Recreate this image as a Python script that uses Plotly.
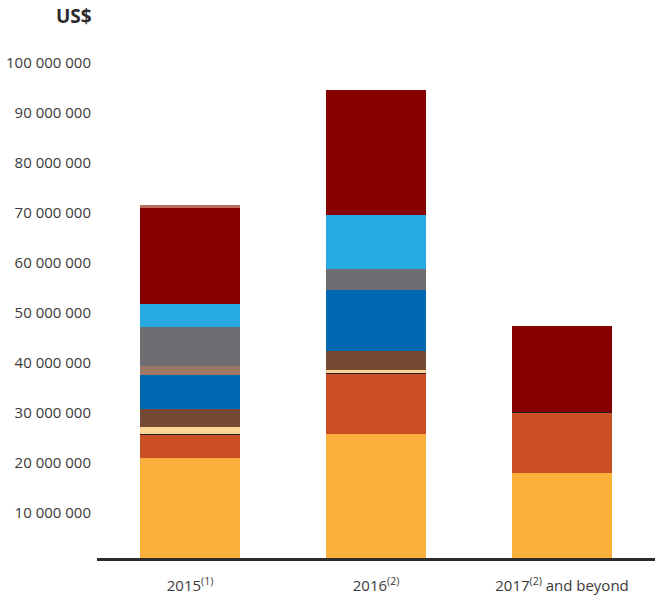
import plotly.graph_objects as go

categories = ["2015<sup>(1)</sup>", "2016<sup>(2)</sup>", "2017<sup>(2)</sup> and beyond"]

# segment values in US$ millions, bottom to top
series_names = ["s1", "s2", "s3", "s4", "s5", "s6", "s7", "s8", "s9", "s10", "s11"]
s1 = [20.0, 24.8, 17.0]
s2 = [4.6, 12.0, 12.0]
s3 = [0.26, 0.26, 0.26]
s4 = [1.34, 0.54, 0.0]
s5 = [3.54, 3.8, 0.0]
s6 = [6.86, 12.26, 0.0]
s7 = [1.8, 0.0, 0.0]
s8 = [7.8, 4.14, 0.0]
s9 = [4.6, 10.8, 0.0]
s10 = [19.26, 25.0, 17.14]
s11 = [0.54, 0.0, 0.0]
series = [s1, s2, s3, s4, s5, s6, s7, s8, s9, s10, s11]
colors = ["#FBB03B", "#CB4F24", "#231F20", "#FFD596", "#744A35", "#0067B2",
          "#9C7763", "#6D6E71", "#27AAE1", "#870000", "#BA6E5E"]

tick_values = [10, 20, 30, 40, 50, 60, 70, 80, 90, 100]
tick_labels = ["10 000 000", "20 000 000", "30 000 000", "40 000 000", "50 000 000",
               "60 000 000", "70 000 000", "80 000 000", "90 000 000", "100 000 000"]

fig = go.Figure()
for name, vals, col in zip(series_names, series, colors):
    fig.add_trace(go.Bar(
        x=categories, y=[v * 1e6 for v in vals], name=name,
        marker=dict(color=col, line=dict(width=0)),
        width=0.538, showlegend=False, hoverinfo="skip",
    ))

fig.update_layout(
    barmode="stack",
    width=656, height=598,
    margin=dict(l=97, r=1, t=48, b=40),
    plot_bgcolor="white", paper_bgcolor="white",
    font=dict(family="Open Sans", size=15, color="#3a3a3a"),
    xaxis=dict(
        range=[-0.5, 2.5], showgrid=False, zeroline=False,
        showline=True, linecolor="#2b2b2b", linewidth=3,
        ticks="outside", ticklen=12, tickcolor="rgba(0,0,0,0)",
        tickfont=dict(size=15, color="#3a3a3a"),
    ),
    yaxis=dict(
        range=[0, 102e6], showgrid=False, zeroline=False, showline=False,
        tickvals=[v * 1e6 for v in tick_values], ticktext=tick_labels,
        ticks="outside", ticklen=2, tickcolor="rgba(0,0,0,0)",
        ticklabelshift=5,
        tickfont=dict(size=15, color="#3a3a3a"),
    ),
    annotations=[dict(
        text="<b>US$</b>", xref="paper", yref="paper",
        x=-3 / 558, y=(558 - 16) / 510, xanchor="right", yanchor="middle",
        showarrow=False, font=dict(size=19, color="#2b2b2b", family="Open Sans"),
    )],
)

fig.write_html("out.html")
